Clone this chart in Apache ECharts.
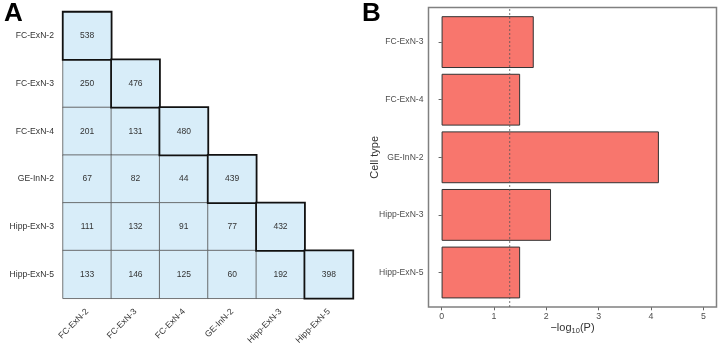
<!DOCTYPE html>
<html>
<head>
<meta charset="utf-8">
<script src="https://cdn.jsdelivr.net/npm/echarts@6/dist/echarts.min.js"></script>
<style>
  html, body { margin: 0; padding: 0; background: #fff; }
  #chart { width: 719px; height: 347px; }
</style>
</head>
<body>
<div id="chart"></div>
<script>
// panel A: overlap matrix (lower triangle)
var cellTypes = ['FC-ExN-2', 'FC-ExN-3', 'FC-ExN-4', 'GE-InN-2', 'Hipp-ExN-3', 'Hipp-ExN-5'];
var overlapRows = [
  [538],
  [250, 476],
  [201, 131, 480],
  [67, 82, 44, 439],
  [111, 132, 91, 77, 432],
  [133, 146, 125, 60, 192, 398]
];

// panel B: enrichment
var enrichTypes = ['FC-ExN-3', 'FC-ExN-4', 'GE-InN-2', 'Hipp-ExN-3', 'Hipp-ExN-5'];
var enrichValues = [1.76, 1.50, 4.15, 2.09, 1.50];
var pCutoff = 0.05;

var chart = echarts.init(document.getElementById('chart'));

// 拆成对角线和其他格子，对角线画在上面
var offDiag = [], diag = [];
overlapRows.forEach(function (row, i) {
  row.forEach(function (v, j) {
    if (i === j) diag.push([j, i, v]);
    else offDiag.push([j, i, v]);
  });
});

var cutLine = -Math.log10(pCutoff);
var font = 'Liberation Sans, Arial, sans-serif';

var option = {
  animation: false,
  textStyle: { fontFamily: font },
  title: [
    { text: 'A', left: 4, top: 1, padding: 0, textStyle: { fontSize: 26, fontWeight: 'bold', color: '#000', fontFamily: font } },
    { text: 'B', left: 362, top: 1, padding: 0, textStyle: { fontSize: 26, fontWeight: 'bold', color: '#000', fontFamily: font } }
  ],
  visualMap: {
    show: false,
    min: 0, max: 600,
    seriesIndex: [0, 1],
    inRange: { color: ['#d8edf9', '#d8edf9'] }
  },
  grid: [
    { left: 63, top: 12, width: 290, height: 290.7 },
    // B frame
    { left: 428.5, top: 7.5, width: 288, height: 299.5, show: true, borderColor: '#808080', borderWidth: 1.5, backgroundColor: 'transparent' },
    // B bars (inset like ggplot discrete expansion)
    { left: 428.5, top: 13.3, width: 288, height: 288 }
  ],
  xAxis: [
    {
      gridIndex: 0, type: 'category', data: cellTypes,
      axisLine: { show: false }, axisTick: { show: false }, splitLine: { show: false },
      axisLabel: { rotate: 45, margin: 12, fontSize: 8.6, color: '#333' }
    },
    { gridIndex: 1, type: 'value', min: -0.25, max: 5.25, show: false },
    {
      gridIndex: 2, type: 'value', min: -0.25, max: 5.25, interval: 1,
      offset: 6,
      axisLine: { show: false },
      axisTick: { show: true, length: 3, lineStyle: { color: '#666' }, customValues: [0, 1, 2, 3, 4, 5] },
      axisLabel: { fontSize: 8.8, color: '#4d4d4d', margin: 5, customValues: [0, 1, 2, 3, 4, 5] },
      splitLine: { show: false },
      name: '{a|\u2212log}{s|10}{a|(P)}',
      nameLocation: 'middle', nameGap: 14, nameMoveOverlap: false,
      nameTextStyle: {
        rich: {
          a: { fontSize: 11, color: '#333' },
          s: { fontSize: 7.5, color: '#333', verticalAlign: 'bottom', padding: [6, 0, 0, 0] }
        }
      }
    }
  ],
  yAxis: [
    {
      gridIndex: 0, type: 'category', data: cellTypes, inverse: true,
      axisLine: { show: false }, axisTick: { show: false }, splitLine: { show: false },
      axisLabel: { fontSize: 8.6, color: '#333', margin: 9 }
    },
    { gridIndex: 1, type: 'value', min: 0, max: 1, show: false },
    {
      gridIndex: 2, type: 'category', data: enrichTypes, inverse: true,
      axisLine: { show: false },
      axisTick: { show: true, length: 3, alignWithLabel: true, lineStyle: { color: '#666' } },
      axisLabel: { fontSize: 8.6, color: '#4d4d4d', margin: 5 },
      name: 'Cell type', nameLocation: 'middle', nameGap: 48, nameMoveOverlap: false,
      nameTextStyle: { fontSize: 11, color: '#333' }
    }
  ],
  series: [
    {
      type: 'heatmap', xAxisIndex: 0, yAxisIndex: 0, data: offDiag,
      itemStyle: { borderColor: '#555', borderWidth: 0.8 },
      label: { show: true, fontSize: 8.5, color: '#333' },
      emphasis: { disabled: true }
    },
    {
      type: 'heatmap', xAxisIndex: 0, yAxisIndex: 0, data: diag, z: 3,
      itemStyle: { borderColor: '#111', borderWidth: 1.8 },
      label: { show: true, fontSize: 8.5, color: '#333' },
      emphasis: { disabled: true }
    },
    {
      type: 'bar', xAxisIndex: 2, yAxisIndex: 2, data: enrichValues,
      barWidth: '90%',
      itemStyle: { color: '#f8766d', borderColor: '#333', borderWidth: 1 },
      z: 2
    },
    {
      type: 'line', xAxisIndex: 1, yAxisIndex: 1,
      data: [[cutLine, 0], [cutLine, 1]],
      symbol: 'none',
      lineStyle: { color: '#555', width: 0.8, type: [2, 2] },
      z: 5
    }
  ]
};

chart.setOption(option);
</script>
</body>
</html>
